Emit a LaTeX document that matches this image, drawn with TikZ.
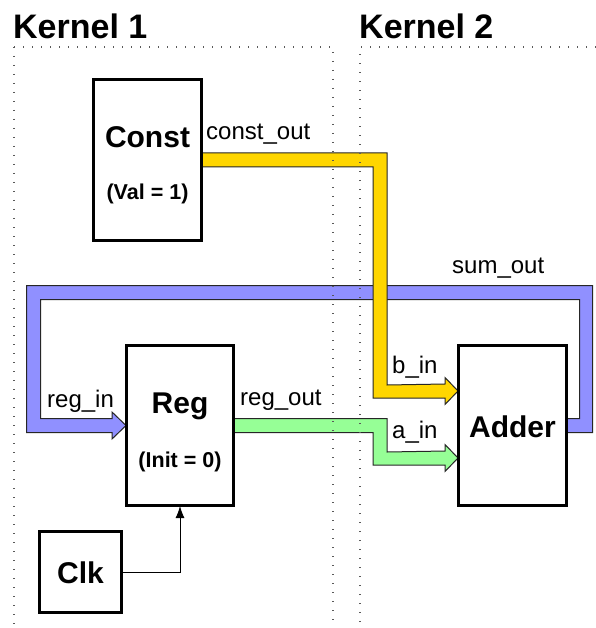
\documentclass[tikz,border=0pt]{standalone}
\usepackage{fontspec}
\setmainfont{Liberation Sans}
\usetikzlibrary{arrows.meta,calc}

\definecolor{busyellow}{RGB}{255,214,0}
\definecolor{busblue}{RGB}{144,144,255}
\definecolor{busgreen}{RGB}{150,255,150}

\tikzset{
  block/.style={draw=black, line width=2pt, fill=white, inner sep=0pt},
  title/.style={font=\fontsize{30}{36}\selectfont\bfseries, inner sep=0pt, anchor=base},
  subtitle/.style={font=\fontsize{21.5}{26}\selectfont\bfseries, inner sep=0pt, anchor=base},
  kernel/.style={font=\fontsize{34}{40}\selectfont\bfseries, inner sep=0pt, anchor=base west},
  portlabel/.style={font=\fontsize{24}{29}\selectfont, inner sep=0pt, anchor=base west},
  bus/.style={draw=black!85, line width=1pt, line join=miter},
  region/.style={draw=black!65, line width=1.4pt, dash pattern=on 1.4pt off 7.6pt},
  clockline/.style={draw=black, line width=0.9pt, -{Latex[length=12pt,width=9pt]}}
}

\begin{document}
\begin{tikzpicture}[x=1pt,y=-1pt]
\useasboundingbox (0,0) rectangle (595,628);

% functional blocks (placed first so the buses can refer to them)
\path
  node[block, minimum width=107pt, minimum height=160pt] (const) at (147.5,160) {}
  node[block, minimum width=106pt, minimum height=159pt] (reg) at (180,425.5) {}
  node[block, minimum width=107pt, minimum height=159pt] (adder) at (512.5,425.5) {}
  node[block, minimum width=81pt, minimum height=80pt] (clk) at (80.5,572) {};

% input points on the adder
\coordinate (bin) at ($(adder.north west)+(0,46)$);
\coordinate (ain) at ($(adder.north west)+(0,113)$);

% sum_out feedback bus (blue)
\filldraw[bus, fill=busblue]
  ($(adder.east)+(0,-7)$) -- ++(12.5,0) |- (40.5,299.5) |- ($(reg.west)+(-14,-7)$)
  -- ++(0,-6.5) -- (reg.west) -- ++(-14,13.5) -- ++(0,-6.5)
  -| (26.5,285.5) -| (592.5,432.5) -- ($(adder.east)+(0,7)$) -- cycle;

% reg_out -> a_in bus (green)
\filldraw[bus, fill=busgreen]
  ($(reg.east)+(0,-7)$) -| (387,452) -- ($(ain)+(-13,-7)$)
  -- ++(0,-6.5) -- (ain) -- ++(-13,13.5) -- ++(0,-6.5)
  -| (373,432.5) -- ($(reg.east)+(0,7)$) -- cycle;

% const_out -> b_in bus (yellow)
\filldraw[bus, fill=busyellow]
  ($(const.east)+(0,-7)$) -| (387,385) -- ($(bin)+(-13,-7)$)
  -- ++(0,-6.5) -- (bin) -- ++(-13,13.5) -- ++(0,-6.5)
  -| (373,167) -- ($(const.east)+(0,7)$) -- cycle;

% clock connection
\draw[clockline] (clk.east) -| (reg.south);

% redraw block outlines over the bus ends
\foreach \b in {const,reg,adder,clk}
  \draw[line width=2pt] (\b.north west) rectangle (\b.south east);

% kernel regions
\draw[region] (14,47) -- (333,47) -- (333,640);
\draw[region] (14,47) -- (14,640);
\draw[region] (360,640) -- (360,47) -- (610,47);
\node[kernel] (k1) at (13,39) {Kernel 1};
\node[kernel] (k2) at (359,39) {Kernel 2};

% block captions
\node[title] (constT) at ($(const.center)+(0,-12)$) {Const};
\node[subtitle] (constS) at ($(const.center)+(0,40)$) {(Val = 1)};
\node[title] (regT) at ($(reg.center)+(0,-12.5)$) {Reg};
\node[subtitle] (regS) at ($(reg.center)+(0,41.5)$) {(Init = 0)};
\node[title] (adderT) at ($(adder.center)+(0,11.5)$) {Adder};
\node[title] (clkT) at ($(clk.center)+(0,11)$) {Clk};

% port labels
\node[portlabel] (lconst) at (206,140) {const\_out};
\node[portlabel] (lsum) at (452,273) {sum\_out};
\node[portlabel] (lregin) at (47,407) {reg\_in};
\node[portlabel] (lregout) at (240,405) {reg\_out};
\node[portlabel] (lbin) at (392,373) {b\_in};
\node[portlabel] (lain) at (392,438) {a\_in};
\end{tikzpicture}
\end{document}
